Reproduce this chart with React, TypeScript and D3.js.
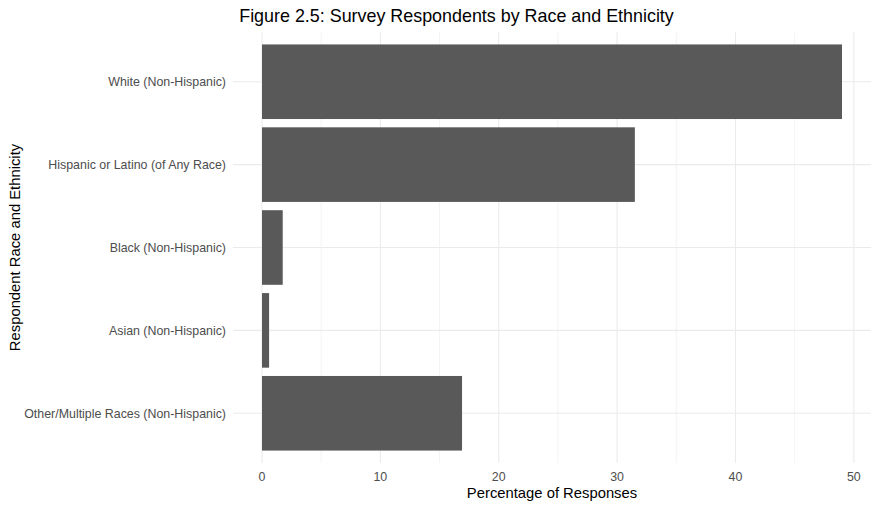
import React from "react";
import * as d3 from "d3";

const categories = [
  "White (Non-Hispanic)",
  "Hispanic or Latino (of Any Race)",
  "Black (Non-Hispanic)",
  "Asian (Non-Hispanic)",
  "Other/Multiple Races (Non-Hispanic)",
];
const values = [49.0, 31.5, 1.75, 0.6, 16.9];
const xTicks = [0, 10, 20, 30, 40, 50];
const xMinor = [5, 15, 25, 35, 45];

const W = 879;
const H = 508;
const panel = { left: 233, right: 871, top: 32, bottom: 463 };
const font = "'Liberation Sans', Arial, sans-serif";

export default function App() {
  const maxV = d3.max(values) as number;
  const pad = maxV * 0.05;
  const x = d3.scaleLinear().domain([-pad, maxV + pad]).range([panel.left, panel.right]);
  const step = (panel.bottom - panel.top) / (categories.length - 1 + 1.2);
  const yc = d3
    .scalePoint<string>()
    .domain(categories)
    .range([panel.top + 0.6 * step, panel.bottom - 0.6 * step]);
  const bw = step * 0.9;

  return (
    <svg width={W} height={H} style={{ position: "absolute", left: 0, top: 0, background: "#fff" }}>
      <rect x={0} y={0} width={W} height={H} fill="#fff" />
      {xMinor.map((t) => (
        <line key={"mn" + t} x1={x(t)} x2={x(t)} y1={panel.top} y2={panel.bottom} stroke="#EBEBEB" strokeWidth={0.6} />
      ))}
      {xTicks.map((t) => (
        <line key={"mj" + t} x1={x(t)} x2={x(t)} y1={panel.top} y2={panel.bottom} stroke="#EBEBEB" strokeWidth={1.1} />
      ))}
      {categories.map((c) => (
        <line key={"gy" + c} x1={panel.left} x2={panel.right} y1={yc(c)} y2={yc(c)} stroke="#EBEBEB" strokeWidth={1.1} />
      ))}
      {categories.map((c, i) => (
        <rect
          key={"b" + c}
          x={x(0)}
          y={(yc(c) as number) - bw / 2}
          width={x(values[i]) - x(0)}
          height={bw}
          fill="#595959"
        />
      ))}
      {categories.map((c) => (
        <text
          key={"yl" + c}
          x={226}
          y={yc(c)}
          dy="0.35em"
          textAnchor="end"
          fontFamily={font}
          fontSize={12.4}
          fill="#4D4D4D"
        >
          {c}
        </text>
      ))}
      {xTicks.map((t) => (
        <text
          key={"xl" + t}
          x={x(t)}
          y={477}
          dy="0.35em"
          textAnchor="middle"
          fontFamily={font}
          fontSize={12.4}
          fill="#4D4D4D"
        >
          {t}
        </text>
      ))}
      <text x={(panel.left + panel.right) / 2} y={498} textAnchor="middle" fontFamily={font} fontSize={14.8} fill="#000">
        Percentage of Responses
      </text>
      <text
        transform={`translate(20, ${(panel.top + panel.bottom) / 2}) rotate(-90)`}
        textAnchor="middle"
        fontFamily={font}
        fontSize={14.8}
        fill="#000"
      >
        Respondent Race and Ethnicity
      </text>
      <text x={456.5} y={22} textAnchor="middle" fontFamily={font} fontSize={17.9} fill="#000">
        Figure 2.5: Survey Respondents by Race and Ethnicity
      </text>
    </svg>
  );
}
